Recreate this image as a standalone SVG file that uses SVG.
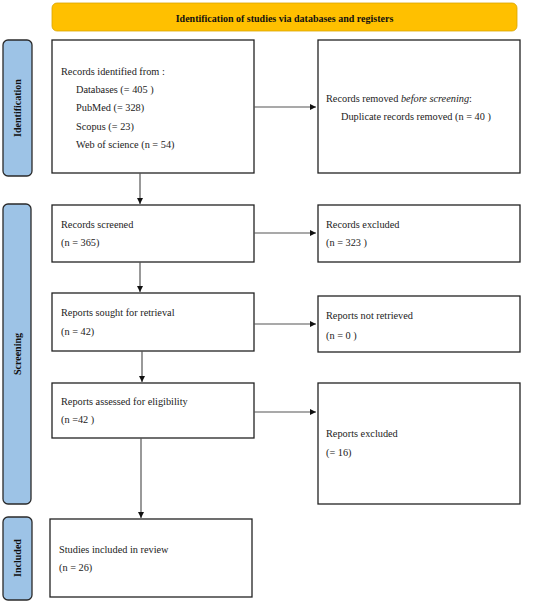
<svg xmlns="http://www.w3.org/2000/svg" width="550" height="602" viewBox="0 0 550 602">
<style>
.box{fill:#fff;stroke:#222;stroke-width:1.3}
.side{fill:#9DC3E6;stroke:#2a2a2a;stroke-width:1.3}
.t{font-family:"Liberation Serif",serif;font-size:10.3px;fill:#222}
.b{font-family:"Liberation Serif",serif;font-size:10px;font-weight:bold;fill:#111}
.c{stroke:#555;stroke-width:1.2;fill:none;marker-end:url(#ah)}
</style>
<defs>
<marker id="ah" markerWidth="8" markerHeight="8" refX="6" refY="3" orient="auto" markerUnits="userSpaceOnUse">
<path d="M0,0 L6,3 L0,6 z" fill="#111"/>
</marker>
</defs>
<rect width="550" height="602" fill="#fff"/>
<g id="banner">
<rect x="52" y="3" width="465" height="28" rx="5" fill="#FFC000" stroke="#D9A400" stroke-width="0.8"/>
<text class="b" x="284.5" y="21.5" text-anchor="middle">Identification of studies via databases and registers</text>
</g>
<g id="side-identification">
<rect class="side" x="3" y="40" width="29" height="136" rx="5"/>
<text class="b" transform="translate(21,108) rotate(-90)" text-anchor="middle">Identification</text>
</g>
<g id="side-screening">
<rect class="side" x="3" y="204" width="28" height="300" rx="5"/>
<text class="b" transform="translate(21,354) rotate(-90)" text-anchor="middle">Screening</text>
</g>
<g id="side-included">
<rect class="side" x="3" y="517" width="29" height="83" rx="5"/>
<text class="b" transform="translate(21,558) rotate(-90)" text-anchor="middle">Included</text>
</g>
<g id="records-identified">
<rect class="box" x="52" y="40" width="202" height="133"/>
<text class="t" x="61" y="75">Records identified from :</text>
<text class="t" x="76" y="93">Databases (= 405 )</text>
<text class="t" x="76" y="111">PubMed (= 328)</text>
<text class="t" x="76" y="130">Scopus (= 23)</text>
<text class="t" x="76" y="148">Web of science (n = 54)</text>
</g>
<g id="records-removed">
<rect class="box" x="318" y="40" width="202" height="133"/>
<text class="t" x="326" y="102">Records removed <tspan font-style="italic">before screening</tspan>:</text>
<text class="t" x="341" y="120">Duplicate records removed (n = 40 )</text>
</g>
<g id="records-screened">
<rect class="box" x="52" y="205" width="202" height="57"/>
<text class="t" x="61" y="228">Records screened</text>
<text class="t" x="61" y="246">(n = 365)</text>
</g>
<g id="records-excluded">
<rect class="box" x="318" y="205" width="202" height="57"/>
<text class="t" x="326" y="228">Records excluded</text>
<text class="t" x="326" y="246">(n = 323 )</text>
</g>
<g id="reports-sought">
<rect class="box" x="52" y="293" width="202" height="58"/>
<text class="t" x="61" y="316">Reports sought for retrieval</text>
<text class="t" x="61" y="335">(n = 42)</text>
</g>
<g id="reports-not-retrieved">
<rect class="box" x="318" y="296" width="202" height="56"/>
<text class="t" x="326" y="319">Reports not retrieved</text>
<text class="t" x="326" y="339">(n = 0 )</text>
</g>
<g id="reports-assessed">
<rect class="box" x="52" y="383" width="202" height="55"/>
<text class="t" x="61" y="405">Reports assessed for eligibility</text>
<text class="t" x="61" y="423">(n =42 )</text>
</g>
<g id="reports-excluded">
<rect class="box" x="318" y="383" width="202" height="121"/>
<text class="t" x="326" y="437">Reports excluded</text>
<text class="t" x="326" y="456">(= 16)</text>
</g>
<g id="studies-included">
<rect class="box" x="50" y="519" width="202" height="78"/>
<text class="t" x="59" y="553">Studies included in review</text>
<text class="t" x="59" y="571">(n = 26)</text>
</g>
<g id="connectors">
<line class="c" x1="254" y1="107" x2="316" y2="107"/>
<line class="c" x1="140" y1="173" x2="140" y2="204"/>
<line class="c" x1="254" y1="233" x2="316" y2="233"/>
<line class="c" x1="140" y1="262" x2="140" y2="292"/>
<line class="c" x1="254" y1="324" x2="316" y2="324"/>
<line class="c" x1="142" y1="351" x2="142" y2="382"/>
<line class="c" x1="254" y1="412" x2="316" y2="412"/>
<line class="c" x1="141" y1="438" x2="141" y2="518"/>
</g>
</svg>
